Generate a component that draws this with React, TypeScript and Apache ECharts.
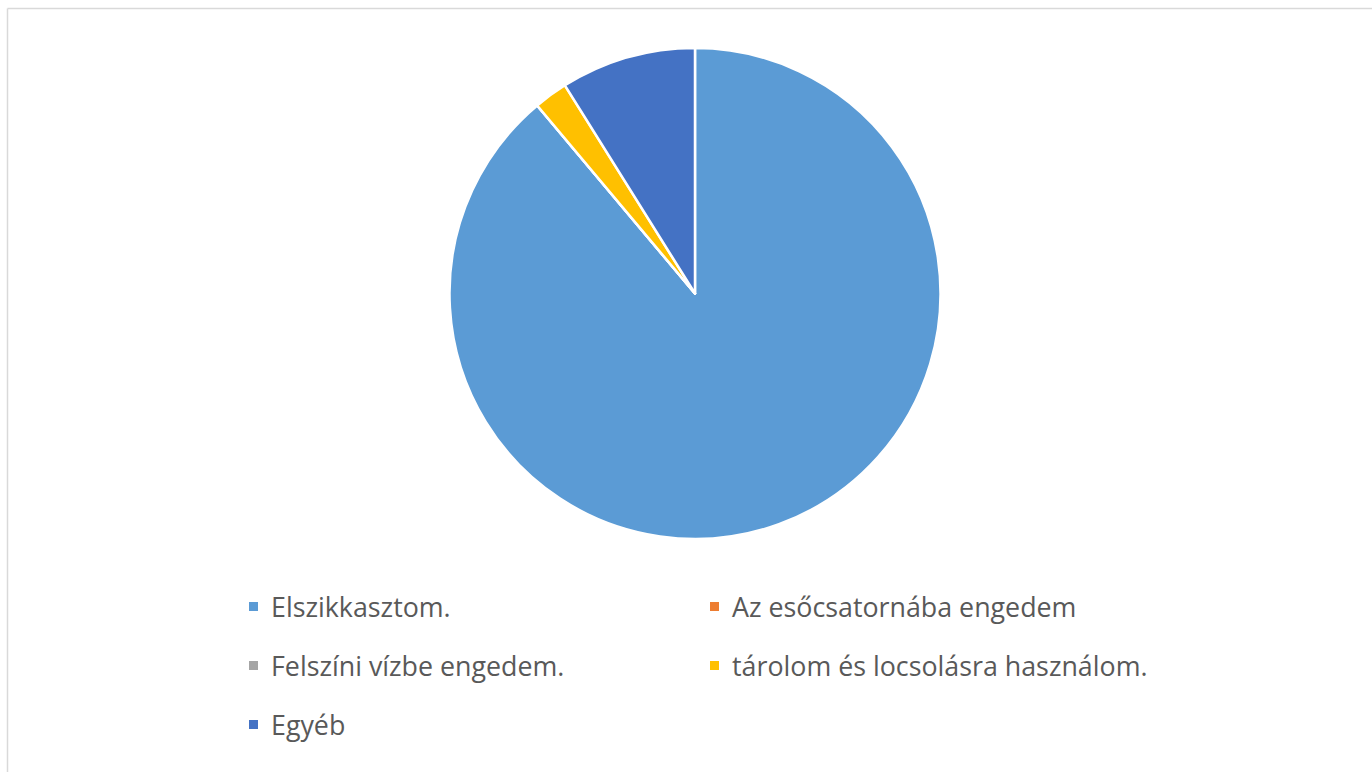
import React, { useEffect, useRef } from "react";
import * as echarts from "echarts";

const categories = [
  "Elszikkasztom.",
  "Az esőcsatornába engedem",
  "Felszíni vízbe engedem.",
  "tárolom és locsolásra használom.",
  "Egyéb",
];
const values = [40, 0, 0, 1, 4];
const colors = ["#5B9BD5", "#ED7D31", "#A5A5A5", "#FFC000", "#4472C4"];
const leftColumn = [categories[0], categories[2], categories[4]];
const rightColumn = [categories[1], categories[3]];

export default function App() {
  const ref = useRef<HTMLDivElement>(null);
  useEffect(() => {
    if (!ref.current) return;
    const chart = echarts.init(ref.current, null, { renderer: "svg" });
    const legendCommon = {
      orient: "vertical" as const,
      itemWidth: 11,
      itemHeight: 11,
      itemGap: 32,
      icon: "rect",
      textStyle: {
        fontFamily: "Open Sans",
        fontSize: 26.8,
        color: "#595959",
        padding: [0, 0, 0, 7],
      },
    };
    chart.setOption({
      animation: false,
      backgroundColor: "#ffffff",
      color: colors,
      graphic: [
        { type: "line", shape: { x1: 7.5, y1: 8.5, x2: 1372, y2: 8.5 }, style: { stroke: "#d9d9d9", lineWidth: 1.5 } },
        { type: "line", shape: { x1: 7.5, y1: 8.5, x2: 7.5, y2: 772 }, style: { stroke: "#d9d9d9", lineWidth: 1.5 } },
      ],
      legend: [
        { ...legendCommon, data: leftColumn, left: 242, top: 588 },
        { ...legendCommon, data: rightColumn, left: 703, top: 588 },
      ],
      series: [
        {
          type: "pie",
          center: [695, 293.5],
          radius: 245.5,
          startAngle: 90,
          clockwise: true,
          label: { show: false },
          labelLine: { show: false },
          itemStyle: { borderColor: "#ffffff", borderWidth: 2.5 },
          data: categories.map((name, i) => ({ name, value: values[i] })),
        },
      ],
    });
    return () => chart.dispose();
  }, []);
  return (
    <div
      ref={ref}
      style={{ position: "fixed", left: 0, top: 0, width: 1372, height: 772 }}
    />
  );
}
